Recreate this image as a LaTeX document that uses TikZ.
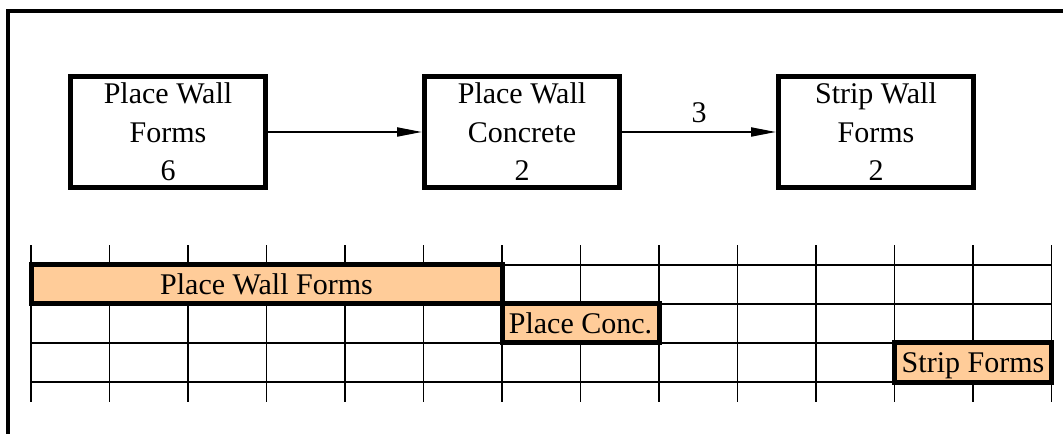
\documentclass[tikz,border=0pt]{standalone}
\usepackage{fontspec}
\setmainfont{Liberation Serif}
\usepackage{tikz}
\usetikzlibrary{
  arrows.meta,
  positioning
}
\definecolor{barFill}{HTML}{FFCC99}
\tikzset{
  actbox/.style={
    draw, line width=5pt, minimum width=195pt, minimum height=111pt,
    inner sep=0pt, align=center, font=\fontsize{30}{38.5}\selectfont
  },
  flow/.style={-{Triangle[length=25pt, width=9pt]}, line width=2pt},
  lagtag/.style={font=\fontsize{30}{36}\selectfont, inner sep=0pt},
  frameline/.style={line width=3.5pt},
  gridline/.style={line width=1.5pt, black},
  actbar/.style={draw, line width=5pt, fill=barFill},
  bartext/.style={
    font=\fontsize{30}{36}\selectfont, inner sep=0pt,
    text height=20pt, text depth=0pt
  }
}

\begin{document}
\begin{tikzpicture}[x=1pt, y=1pt, node distance=154pt]
  \useasboundingbox (0,0) rectangle (1063,434);
  \draw[frameline] (1063,423) -- (8,423) -- (8,0);

  \node[actbox] (wallforms) at (168,302) {Place Wall\\Forms\\6};
  \node[actbox, right=of wallforms] (wallconc) {Place Wall\\Concrete\\2};
  \node[actbox, right=of wallconc] (stripforms) {Strip Wall\\Forms\\2};
  \draw[flow] (wallforms) -- (wallconc);
  \draw[flow] (wallconc) -- node[lagtag, above=8pt] (lag) {3} (stripforms);

  \begin{scope}[shift={(31pt,52pt)}, x=78.5pt, y=39pt]
    \foreach \c in {0,...,13}
      \draw[gridline] (\c,-0.5) -- (\c,3.5);
    \foreach \r in {0,...,3}
      \draw[gridline] (0,\r) -- (13,\r);

    \draw[actbar] (0,2) rectangle (6,3);
    \node[bartext] (formsbar) at (3,2.5) {Place Wall Forms};
    \draw[actbar] (6,1) rectangle (8,2);
    \node[bartext] (concbar) at (7,1.5) {Place Conc.};
    \draw[actbar] (11,0) rectangle (13,1);
    \node[bartext] (stripbar) at (12,0.5) {Strip Forms};
  \end{scope}
\end{tikzpicture}
\end{document}
